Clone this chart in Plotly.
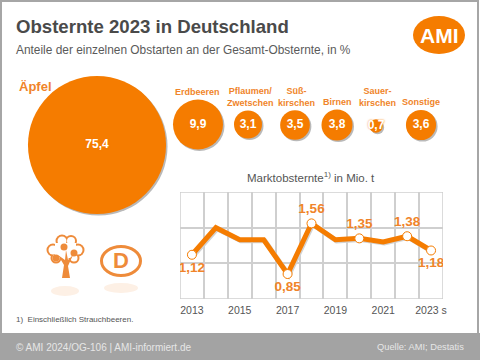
import plotly.graph_objects as go

# ---- data ----
fruit_names = ["Äpfel", "Erdbeeren", "Pflaumen/<br>Zwetschen", "Süß-<br>kirschen", "Birnen", "Sauer-<br>kirschen", "Sonstige"]
fruit_shares = [75.4, 9.9, 3.1, 3.5, 3.8, 0.7, 3.6]
fruit_labels = ["75,4", "9,9", "3,1", "3,5", "3,8", "0,7", "3,6"]

years = [2013, 2014, 2015, 2016, 2017, 2018, 2019, 2020, 2021, 2022, 2023]
harvest = [1.12, 1.50, 1.33, 1.33, 0.85, 1.56, 1.33, 1.35, 1.30, 1.38, 1.18]
tick_years = [2013, 2015, 2017, 2019, 2021, 2023]
tick_labels = ["2013", "2015", "2017", "2019", "2021", "2023 s"]
labelled_years = [2013, 2017, 2018, 2020, 2022, 2023]
labelled_text = ["1,12", "0,85", "1,56", "1,35", "1,38", "1,18"]
label_pos = ["bottom center", "bottom center", "top center", "top center", "top center", "bottom center"]

# ---- layout constants (pixel canvas) ----
W, H = 480, 360
ORANGE = "#F57C00"
ICON = "#EE8B3A"
PALE = "#FDF0E5"
GRID = "#CFCFCF"
bubble_x = [97, 198, 248, 295, 337, 376, 421]
bubble_y = [145, 124.5, 124.5, 125, 125, 126, 125]
name_x = [None, 197, 250, 296, 337, 377, 421]
name_y = [None, 92, 97, 97, 102, 97, 102]
SIZEREF = 2 / 15.9 ** 2
FONT = "Liberation Sans"

fig = go.Figure()

# shadows then bubbles, on a full-canvas pixel axis
fig.add_trace(go.Scatter(x=[v + 1.5 for v in bubble_x], y=[v + 1.5 for v in bubble_y], mode="markers",
    marker=dict(size=fruit_shares, sizemode="area", sizeref=SIZEREF, color="#B9B9B9", line_width=0, opacity=1),
    hoverinfo="skip", showlegend=False))
fig.add_trace(go.Scatter(x=bubble_x, y=bubble_y, mode="markers+text", text=fruit_labels,
    textposition="middle center",
    textfont=dict(family=FONT, size=12, color="white", weight="bold", shadow="0 0 2px #F57C00"),
    marker=dict(size=fruit_shares, sizemode="area", sizeref=SIZEREF, color=ORANGE, line_width=0, opacity=1),
    hoverinfo="skip", showlegend=False))

# line chart
fig.add_trace(go.Scatter(x=[y + 0.05 for y in years], y=[v - 0.015 for v in harvest], mode="lines",
    xaxis="x2", yaxis="y2", line=dict(color="#D2D2D2", width=5), hoverinfo="skip", showlegend=False))
fig.add_trace(go.Scatter(x=years, y=harvest, mode="lines", xaxis="x2", yaxis="y2",
    line=dict(color=ORANGE, width=5), showlegend=False))
fig.add_trace(go.Scatter(x=labelled_years, y=[harvest[years.index(y)] for y in labelled_years],
    xaxis="x2", yaxis="y2", mode="markers+text", text=labelled_text, textposition=label_pos,
    textfont=dict(family=FONT, size=13.5, color="#F0842A", weight="bold"),
    marker=dict(size=9, color="white", line=dict(color=ORANGE, width=1)), showlegend=False))

annotations = []
def txt(x, y, s, size, color, bold=False, anchor="left"):
    annotations.append(dict(x=x, y=y, xref="x", yref="y", text=s, showarrow=False, xanchor=anchor, yanchor="middle",
        font=dict(family=FONT, size=size, color=color, weight="bold" if bold else "normal"), align="center", borderpad=0))

txt(15, 26, "Obsternte 2023 in Deutschland", 18.6, "#4A4A4A", True)
txt(15, 49.5, "Anteile der einzelnen Obstarten an der Gesamt-Obsternte, in %", 11.9, "#5A5A5A")
txt(18, 86, "Äpfel", 13, "#F0842A", True)
for i in range(1, 7):
    txt(name_x[i], name_y[i], fruit_names[i], 9, "#F0842A", True, "center")
txt(311, 176.5, "Marktobsternte<sup>1)</sup> in Mio. t", 11.5, "#555555", anchor="center")
txt(15, 319, "1)  Einschließlich Strauchbeeren.", 8, "#555555")
txt(15, 347, "© AMI 2024/OG-106 | AMI-informiert.de", 10, "#E6E6E6")
txt(465, 347, "Quelle: AMI; Destatis", 9.3, "#E6E6E6", anchor="right")
txt(439, 35, "AMI", 21, "white", True, "center")
txt(120.5, 260.5, "D", 22, ICON, True, "center")

def circle(cx, cy, rx, ry=None, fill=ICON, line=None):
    ry = rx if ry is None else ry
    return dict(type="circle", xref="x", yref="y", x0=cx - rx, x1=cx + rx, y0=cy - ry, y1=cy + ry,
                fillcolor=fill, line=line or dict(width=0), layer="below")

lobes = [(62, 241, 6.5), (71, 241, 6), (53, 250, 6.5), (78, 250, 6.5), (56, 258, 5.5), (74, 258, 5.5)]
shapes = [
    dict(type="rect", xref="x", yref="y", x0=1, x1=478, y0=1, y1=H, fillcolor="white", line=dict(color="#A6A6A6", width=2), layer="below"),
    dict(type="rect", xref="x", yref="y", x0=0, x1=W, y0=333, y1=H, fillcolor="#A3A3A3", line_width=0, layer="below"),
    circle(439, 35, 26, 19, ORANGE),
    circle(121, 261, 19.5, 14.5, "white", dict(color=ICON, width=3)),
    circle(121, 288, 17, 5, PALE),
    circle(65, 291, 14, 5, PALE),
]
shapes += [circle(cx, cy, r) for cx, cy, r in lobes]
shapes += [circle(cx, cy, r - 2, fill="white") for cx, cy, r in lobes]
shapes.append(dict(type="rect", xref="x", yref="y", x0=55, x1=76, y0=243, y1=258, fillcolor="white", line_width=0, layer="below"))
shapes += [circle(64, 247, 3.5), circle(74, 253, 3.5), circle(56, 258, 3.5)]
shapes.append(dict(type="path", xref="x", yref="y", layer="below", fillcolor=ICON, line_width=0,
    path="M 62 278 L 64 265 L 58 255 L 65 260 L 66 250 L 68 260 L 73 255 L 68 266 L 70 278 Z"))
shapes.append(dict(type="rect", xref="x2", yref="y2", x0=2012.5, x1=2023.5, y0=0.5, y1=2.0,
    line=dict(color=GRID, width=1.5), layer="below"))

fig.update_layout(
    width=W, height=H, margin=dict(l=0, r=0, t=0, b=0, autoexpand=False), paper_bgcolor="white", plot_bgcolor="rgba(0,0,0,0)",
    showlegend=False, annotations=annotations, shapes=shapes,
    xaxis=dict(domain=[0, 1], range=[0, W], visible=False, fixedrange=True),
    yaxis=dict(domain=[0, 1], range=[H, 0], visible=False, fixedrange=True),
    xaxis2=dict(domain=[180 / W, 443 / W], range=[2012.5, 2023.5], anchor="y2", tickvals=tick_years, ticktext=tick_labels,
        showgrid=False, zeroline=False, showline=False, ticks="", tickfont=dict(family=FONT, size=10.5, color="#555555"),
        minor=dict(tick0=2012.5, dtick=1, showgrid=True, gridcolor=GRID, gridwidth=1.5), ticklabelstandoff=3),
    yaxis2=dict(domain=[1 - 299 / H, 1 - 192 / H], range=[0.5, 2.0], anchor="x2", dtick=0.5, tick0=0.5, showticklabels=False,
        gridcolor=GRID, gridwidth=1.5, zeroline=False, showline=False),
)

fig.write_html("out.html", config=dict(displayModeBar=False), post_script="document.body.style.margin='0';")
